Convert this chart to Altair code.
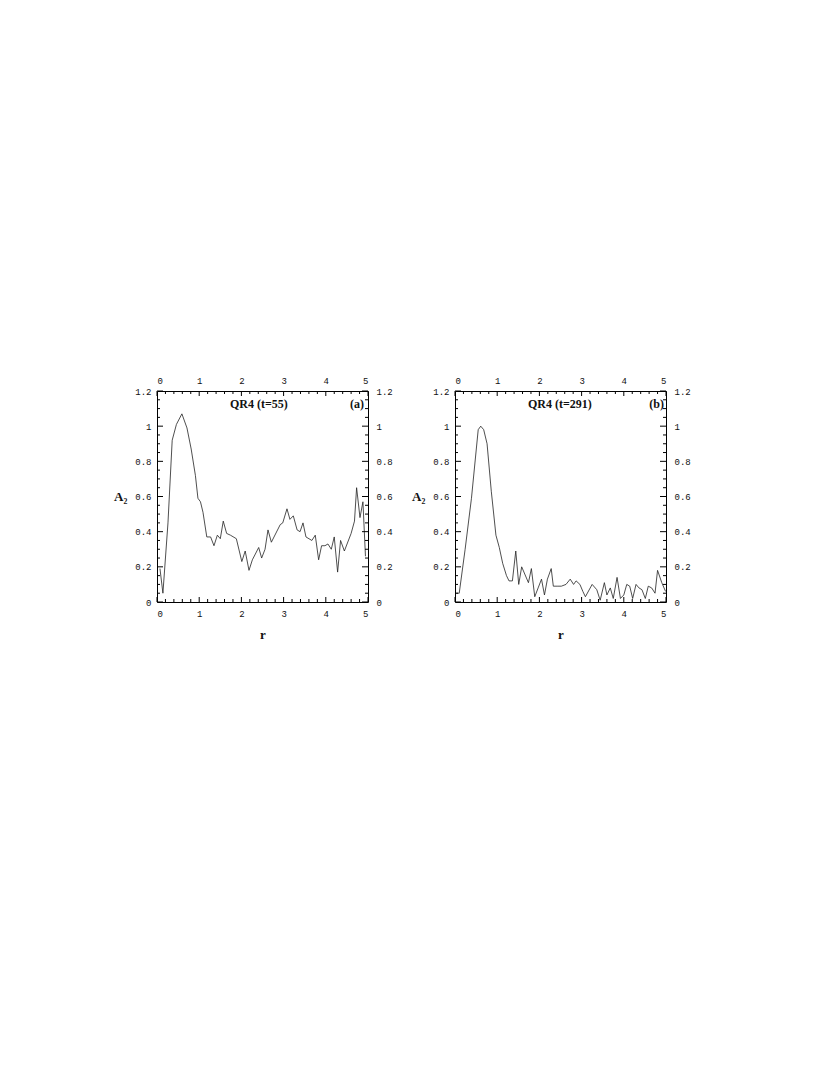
import altair as alt
import pandas as pd

# ---- data ----
r_a = [0.07, 0.14, 0.26, 0.36, 0.46, 0.59, 0.71, 0.81, 0.91, 0.97, 1.03, 1.09, 1.18, 1.27,
       1.35, 1.43, 1.50, 1.57, 1.65, 1.74, 1.88, 2.01, 2.09, 2.18, 2.26, 2.41, 2.48, 2.56,
       2.63, 2.71, 2.92, 2.98, 3.08, 3.15, 3.23, 3.32, 3.39, 3.46, 3.53, 3.67, 3.75, 3.83,
       3.90, 3.98, 4.05, 4.13, 4.20, 4.28, 4.35, 4.44, 4.60, 4.68, 4.73, 4.81, 4.88, 4.94]
a2_a = [0.19, 0.05, 0.45, 0.92, 1.01, 1.07, 0.99, 0.87, 0.72, 0.59, 0.57, 0.51, 0.37, 0.37,
        0.32, 0.38, 0.36, 0.46, 0.39, 0.38, 0.36, 0.23, 0.29, 0.18, 0.24, 0.31, 0.25, 0.30,
        0.41, 0.34, 0.44, 0.45, 0.53, 0.47, 0.49, 0.41, 0.40, 0.45, 0.37, 0.35, 0.38, 0.24,
        0.32, 0.32, 0.33, 0.30, 0.37, 0.17, 0.35, 0.29, 0.39, 0.46, 0.65, 0.48, 0.57, 0.26]

r_b = [0.03, 0.10, 0.24, 0.39, 0.55, 0.61, 0.68, 0.76, 0.86, 0.97, 1.05, 1.13, 1.22, 1.28,
       1.36, 1.44, 1.51, 1.58, 1.74, 1.81, 1.89, 1.97, 2.05, 2.12, 2.19, 2.28, 2.33, 2.42,
       2.52, 2.63, 2.73, 2.81, 2.87, 2.96, 3.03, 3.09, 3.25, 3.36, 3.44, 3.54, 3.60, 3.68,
       3.75, 3.84, 3.92, 4.00, 4.07, 4.14, 4.21, 4.29, 4.36, 4.43, 4.51, 4.58, 4.66, 4.74,
       4.80, 4.90, 4.99]
a2_b = [0.05, 0.05, 0.30, 0.59, 0.98, 1.00, 0.98, 0.90, 0.63, 0.38, 0.31, 0.22, 0.15, 0.12,
        0.12, 0.29, 0.10, 0.20, 0.11, 0.19, 0.03, 0.08, 0.13, 0.04, 0.13, 0.19, 0.09, 0.09,
        0.09, 0.10, 0.13, 0.10, 0.12, 0.10, 0.06, 0.03, 0.10, 0.07, 0.01, 0.11, 0.04, 0.08,
        0.02, 0.14, 0.02, 0.04, 0.10, 0.09, 0.02, 0.10, 0.08, 0.07, 0.02, 0.09, 0.08, 0.05,
        0.18, 0.11, 0.06]

x_major = [0, 1, 2, 3, 4, 5]
x_minor = [0.2, 0.4, 0.6, 0.8, 1.2, 1.4, 1.6, 1.8, 2.2, 2.4, 2.6, 2.8,
           3.2, 3.4, 3.6, 3.8, 4.2, 4.4, 4.6, 4.8]
y_major = [0, 0.2, 0.4, 0.6, 0.8, 1.0, 1.2]
y_minor = [0.05, 0.1, 0.15, 0.25, 0.3, 0.35, 0.45, 0.5, 0.55, 0.65, 0.7, 0.75,
           0.85, 0.9, 0.95, 1.05, 1.1, 1.15]

W = 211
H = 211
MONO = "Liberation Mono"
SERIF = "Liberation Serif"


def panel(r, a2, title, tag, tag_x):
    xs = alt.Scale(domain=[0, 5], nice=False, zero=False)
    ys = alt.Scale(domain=[0, 1.2], nice=False, zero=False)
    df = pd.DataFrame({"r": r, "A2": a2})
    line = alt.Chart(df).mark_line(color="#222", strokeWidth=0.8).encode(
        x=alt.X("r:Q", scale=xs,
                axis=alt.Axis(orient="bottom", values=x_major, format="d", title="r",
                              ticks=False, tickSize=0, domain=False, grid=False,
                              labelPadding=7, titlePadding=10)),
        y=alt.Y("A2:Q", scale=ys,
                axis=alt.Axis(orient="left", values=y_major, labelExpr="toString(datum.value)",
                              title="A₂", titleAngle=0, titleAlign="right", titleBaseline="middle",
                              ticks=False, tickSize=0, domain=False, grid=False,
                              labelPadding=6, titlePadding=8)),
    )
    xmaj = pd.DataFrame({"v": x_major})
    xmin = pd.DataFrame({"v": x_minor})
    ymaj = pd.DataFrame({"v": y_major})
    ymin = pd.DataFrame({"v": y_minor})
    rule = dict(color="black", strokeWidth=1)
    bot_maj = alt.Chart(xmaj).mark_rule(**rule).encode(
        x=alt.X("v:Q", scale=xs, axis=None), y=alt.value(H), y2=alt.value(H - 5))
    bot_min = alt.Chart(xmin).mark_rule(**rule).encode(
        x=alt.X("v:Q", scale=xs, axis=None), y=alt.value(H), y2=alt.value(H - 3))
    top_maj = alt.Chart(xmaj).mark_rule(**rule).encode(
        x=alt.X("v:Q", scale=xs,
                axis=alt.Axis(orient="top", values=x_major, format="d", title=None,
                              ticks=False, tickSize=0, domain=False, grid=False, labelPadding=6)),
        y=alt.value(0), y2=alt.value(5))
    top_min = alt.Chart(xmin).mark_rule(**rule).encode(
        x=alt.X("v:Q", scale=xs, axis=None), y=alt.value(0), y2=alt.value(3))
    left_maj = alt.Chart(ymaj).mark_rule(**rule).encode(
        y=alt.Y("v:Q", scale=ys, axis=None), x=alt.value(0), x2=alt.value(6))
    left_min = alt.Chart(ymin).mark_rule(**rule).encode(
        y=alt.Y("v:Q", scale=ys, axis=None), x=alt.value(0), x2=alt.value(3))
    right_maj = alt.Chart(ymaj).mark_rule(**rule).encode(
        y=alt.Y("v:Q", scale=ys,
                axis=alt.Axis(orient="right", values=y_major, labelExpr="toString(datum.value)",
                              title=None, ticks=False, tickSize=0, domain=False, grid=False,
                              labelPadding=8)),
        x=alt.value(W), x2=alt.value(W - 6))
    right_min = alt.Chart(ymin).mark_rule(**rule).encode(
        y=alt.Y("v:Q", scale=ys, axis=None), x=alt.value(W), x2=alt.value(W - 3))
    ttl = alt.Chart(pd.DataFrame({"t": [title]})).mark_text(
        font=SERIF, fontWeight="bold", fontSize=12, align="left", baseline="middle", color="#111"
    ).encode(text="t:N", x=alt.value(73), y=alt.value(13))
    tg = alt.Chart(pd.DataFrame({"t": [tag]})).mark_text(
        font=SERIF, fontWeight="bold", fontSize=12, align="right", baseline="middle", color="#111"
    ).encode(text="t:N", x=alt.value(tag_x), y=alt.value(13))
    return alt.layer(
        line, bot_maj, bot_min, top_maj, top_min, left_maj, left_min, right_maj, right_min, ttl, tg
    ).resolve_axis(x="independent", y="independent").properties(width=W, height=H)


pa = panel(r_a, a2_a, "QR4 (t=55)", "(a)", 207)
pb = panel(r_b, a2_b, "QR4 (t=291)", "(b)", 209)

chart = alt.hconcat(pa, pb, spacing=18).properties(
    padding={"left": 105, "top": 367, "right": 5, "bottom": 5}
).configure_view(
    stroke="black", strokeWidth=1
).configure_axis(
    labelFont=MONO, labelFontSize=9, labelColor="#111",
    titleFont=SERIF, titleFontWeight="bold", titleFontSize=13, titleColor="#111"
)

chart.save("out.html", embed_options={"renderer": "svg", "actions": False})
